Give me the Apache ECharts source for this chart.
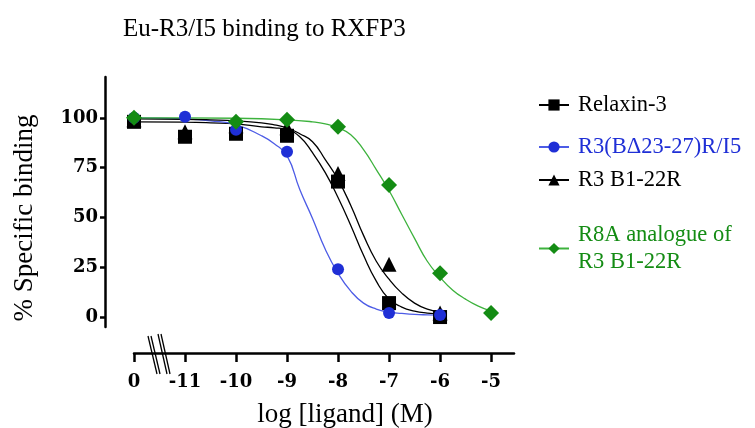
<!DOCTYPE html>
<html><head><meta charset="utf-8">
<script src="https://cdn.jsdelivr.net/npm/echarts@6/dist/echarts.min.js"></script>
<style>html,body{margin:0;padding:0;background:#fff}#c{width:755px;height:428px}</style>
</head><body><div id="c"></div><script>
// x position -12 stands for the "0" (no ligand) control, drawn left of the axis break
const xTicks = [-12, -11, -10, -9, -8, -7, -6, -5];
const xTickLabels = ['0', '-11', '-10', '-9', '-8', '-7', '-6', '-5'];
const yTicks = [0, 25, 50, 75, 100];

const seriesNames = ['Relaxin-3', 'R3(B\u039423-27)R/I5', 'R3 B1-22R', 'R8A analogue of\nR3 B1-22R'];

// measured points (log [ligand], % specific binding)
const relaxinX = [-12, -11, -10, -9, -8, -7, -6];
const relaxinY = [98, 90.5, 92, 91, 68, 7, 0];
const bdeltaX = [-12, -11, -10, -9, -8, -7, -6];
const bdeltaY = [100, 100.5, 94, 83, 24, 2, 1];
const b122X = [-12, -11, -10, -9, -8, -7, -6];
const b122Y = [99, 93, 96, 95, 72, 26.5, 2];
const r8aX = [-12, -10, -9, -8, -7, -6, -5];
const r8aY = [100, 98, 99, 95.5, 66.3, 22, 2];

// fitted curves
const curveX = [-12, -11, -10.5, -10, -9.5, -9.25, -9, -8.75, -8.5, -8.25, -8, -7.75, -7.5, -7.25, -7, -6.75, -6.5, -6.25, -6];
const relaxinCurve = [98, 97.8, 97.5, 97, 95.5, 95, 94, 90.5, 82.5, 72.5, 60, 46, 31, 18, 9, 5, 3, 2, 1.5];
const bdeltaCurve = [100, 99.5, 98.5, 96.5, 91, 87, 81, 64, 49.5, 34, 22, 13, 7, 4, 2.5, 1.8, 1.3, 1.1, 1];
const b122Curve = [99.5, 99.3, 99, 98.5, 97.5, 96.5, 95, 92, 88, 79, 69, 56, 41, 28, 19, 12, 7, 4, 2.5];
const r8aCurveX = [-12, -11, -10, -9, -8.5, -8.25, -8, -7.75, -7.5, -7.25, -7, -6.75, -6.5, -6.25, -6, -5.75, -5.5, -5.25, -5];
const r8aCurve = [100, 100, 99.8, 99, 98, 97, 95, 91.5, 84, 74, 63.5, 51.5, 39.5, 28, 20, 13.5, 9, 5.5, 3];

const zip = (a, b) => a.map((v, i) => [v, b[i]]);

const BLUE = '#1f2fd6', BLUE_LINE = '#4d5ce6';
const GREEN = '#148c14', GREEN_LINE = '#3db23d';
const SERIF = '"Liberation Serif", "Times New Roman", serif';

const chart = echarts.init(document.getElementById('c'));

function curve(name, data, color, lineColor, symbol) {
  return { type: 'line', name, data, smooth: true, showSymbol: false, symbol,
    lineStyle: { color: lineColor, width: 1.3 }, itemStyle: { color }, z: 2, silent: true };
}
function pts(name, data, color, symbol, size, z) {
  return { type: 'scatter', name, data, symbol, symbolSize: size, itemStyle: { color, opacity: 1 }, z };
}
function legend(name, top, color) {
  return { data: [name], left: 538, top, padding: 0, itemWidth: 30, itemHeight: 14, selectedMode: false,
    textStyle: { fontFamily: SERIF, fontSize: 22.5, lineHeight: 27, color, padding: [0, 0, 0, 4] } };
}

chart.setOption({
  animation: false,
  title: { text: 'Eu-R3/I5 binding to RXFP3', left: 118, top: 12,
    textStyle: { fontFamily: SERIF, fontSize: 25, fontWeight: 'normal', color: '#000' } },
  grid: { left: 134, right: 241, top: 77, bottom: 101 },
  xAxis: {
    type: 'value', min: -12, max: -4.55, offset: 26,
    axisLine: { onZero: false, lineStyle: { color: '#000', width: 2.5 } },
    axisTick: { customValues: xTicks, length: 9, lineStyle: { color: '#000', width: 2.5 } },
    axisLabel: { customValues: xTicks, margin: 20, formatter: v => xTickLabels[xTicks.indexOf(v)],
      fontFamily: '"DejaVu Serif", serif', fontWeight: 'bold', fontSize: 18, color: '#000' },
    splitLine: { show: false }
  },
  yAxis: {
    type: 'value', min: -5, max: 120.5, offset: 29,
    axisLine: { show: true, onZero: false, lineStyle: { color: '#000', width: 2.5 } },
    axisTick: { show: true, customValues: yTicks, length: 5, lineStyle: { color: '#000', width: 2.5 } },
    axisLabel: { customValues: yTicks, margin: 7,
      fontFamily: '"DejaVu Serif", serif', fontWeight: 'bold', fontSize: 18, color: '#000' },
    splitLine: { show: false }
  },
  legend: [
    legend(seriesNames[0], 91.5, '#000'),
    legend(seriesNames[1], 133.5, BLUE),
    legend(seriesNames[2], 166.5, '#000'),
    legend(seriesNames[3], 221.5, GREEN)
  ],
  series: [
    curve(seriesNames[0], zip(curveX, relaxinCurve), '#000', '#000', 'rect'),
    curve(seriesNames[1], zip(curveX, bdeltaCurve), BLUE, BLUE_LINE, 'circle'),
    curve(seriesNames[2], zip(curveX, b122Curve), '#000', '#000', 'triangle'),
    curve(seriesNames[3], zip(r8aCurveX, r8aCurve), GREEN, GREEN_LINE, 'diamond'),
    pts(seriesNames[2], zip(b122X, b122Y), '#000', 'triangle', 15, 3),
    pts(seriesNames[0], zip(relaxinX, relaxinY), '#000', 'rect', 14, 4),
    pts(seriesNames[1], zip(bdeltaX, bdeltaY), BLUE, 'circle', 12, 5),
    pts(seriesNames[3], zip(r8aX, r8aY), GREEN, 'diamond', 16, 6)
  ],
  graphic: [
    { type: 'text', x: 345, y: 415, z: 10,
      style: { text: 'log [ligand] (M)', font: '27px ' + SERIF, fill: '#000', align: 'center', verticalAlign: 'middle' } },
    { type: 'text', x: 25, y: 218, rotation: Math.PI / 2, z: 10,
      style: { text: '% Specific binding', font: '27px ' + SERIF, fill: '#000', align: 'center', verticalAlign: 'middle' } },
    { type: 'group', z: 100, children: [
      { type: 'line', shape: { x1: 148, y1: 336, x2: 157, y2: 374 }, style: { stroke: '#000', lineWidth: 1.3 } },
      { type: 'line', shape: { x1: 151, y1: 336, x2: 160, y2: 374 }, style: { stroke: '#000', lineWidth: 1.3 } },
      { type: 'line', shape: { x1: 158, y1: 334, x2: 167, y2: 374 }, style: { stroke: '#000', lineWidth: 1.3 } },
      { type: 'line', shape: { x1: 161, y1: 334, x2: 170, y2: 374 }, style: { stroke: '#000', lineWidth: 1.3 } }
    ] }
  ]
});
</script></body></html>
